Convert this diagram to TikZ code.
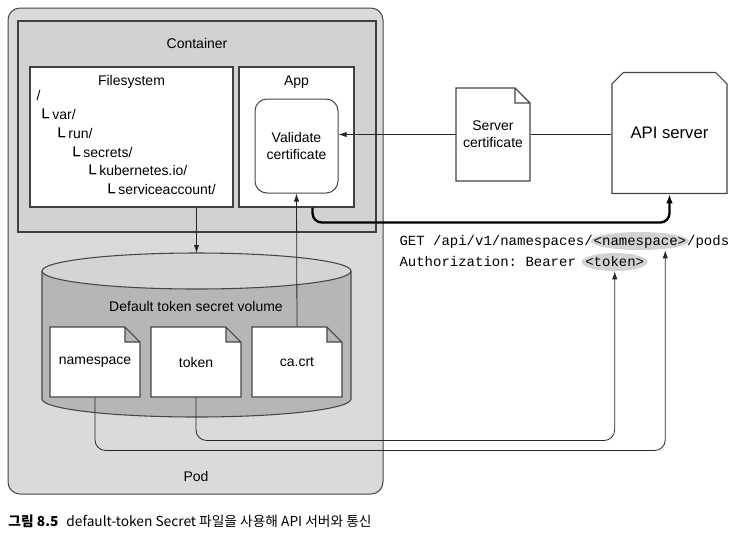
\documentclass[tikz,border=0pt]{standalone}
\usepackage{fontspec}
\setmainfont{Liberation Sans}
\setmonofont{Liberation Mono}
\newfontfamily\krfont{Noto Sans CJK KR}
\newfontfamily\boxfont{DejaVu Sans}
\usetikzlibrary{arrows.meta,shapes.geometric,shapes.misc,positioning,backgrounds}

\definecolor{podgray}{RGB}{218,218,218}
\definecolor{cntgray}{RGB}{210,210,210}
\definecolor{cylbody}{RGB}{182,182,182}
\definecolor{cyltop}{RGB}{212,212,212}
\definecolor{hlgray}{RGB}{210,210,210}
\definecolor{linegray}{RGB}{70,70,70}

\tikzset{every picture/.style={line width=0.75pt}}
\tikzset{
  pxsize/.style 2 args={minimum width=#1*0.75pt, minimum height=#2*0.75pt},
  podbox/.style={draw=linegray, fill=podgray, rounded corners=9pt, inner sep=0},
  cntbox/.style={draw=black!75, fill=cntgray, line width=1.1pt, inner sep=0},
  whitebox/.style={draw=black!75, fill=white, line width=0.8pt, inner sep=0},
  docline/.style={draw=linegray, fill=white, line width=0.8pt},
  docnode/.style={inner sep=0, align=center},
  tree/.style={anchor=west, inner sep=0, text height=8pt, text depth=2pt},
  codeline/.style={inner sep=0, font=\ttfamily\fontsize{10.5}{12.6}\selectfont, text height=8pt, text depth=2pt},
  hilite/.style={ellipse, fill=hlgray, inner sep=0},
  arr/.style={-{Latex[length=6pt,width=4pt]}, draw=black!85, line width=0.6pt},
  conn/.style={draw=black!85, line width=0.6pt},
  thickarr/.style={-{Latex[length=7pt,width=5pt]}, draw=black, line width=1.8pt}
}

% file shape with folded corner: name, x, y, w, h, text
\newcommand{\docfile}[6]{%
  \draw[docline] (#2,#3) -- ++(#4-15,0) -- ++(15,15) -- ++(0,#5-15) -- ++(-#4,0) -- cycle
    (#2+#4-15,#3) -- ++(0,15) -- ++(15,0);
  \node[docnode, pxsize={#4}{#5}] (#1) at (#2+#4/2,#3+#5/2) {#6};
}
\newcommand{\elbow}{\raisebox{-3.2pt}{\scalebox{1.6}[1.3]{\boxfont\fontsize{9}{9}\selectfont └}}\hspace{2.5pt}}

\begin{document}
\begin{tikzpicture}[x=0.75pt,y=0.75pt,yscale=-1,xscale=1,font=\fontsize{10.5}{12.6}\selectfont]
	\useasboundingbox (0,0) rectangle (738,537);

	%Shape: Rectangle [Pod]
	\node[podbox, pxsize={375}{486}] (pod) at (195.5,251) {};
	%Shape: Rectangle [Container]
	\node[cntbox, pxsize={358}{211}] (container) at (197,126.5) {};
	%Shape: Rectangle [Filesystem]
	\node[whitebox, pxsize={203}{140}] (fs) at (131.5,137) {};
	%Shape: Rectangle [App]
	\node[whitebox, pxsize={115}{140}] (app) at (296.5,137) {};
	%Shape: Rounded rectangle [Validate]
	\node[draw=linegray, fill=white, rounded corners=9pt, pxsize={83}{94}, align=center] (validate) at (296.5,146) {Validate\\certificate};

	% Text Node
	\draw (197,43) node (cntlabel) {Container};
	% Text Node
	\draw (131.5,82) node (fslabel) {Filesystem};
	% Text Node
	\draw (296.5,82) node (applabel) {App};
	% Text Node
	\draw (196,476) node (podlabel) {Pod};

	% directory tree
	\node[tree] (t0) at (36,96) {/};
	\node[tree] (t1) at (37,115) {\elbow var/};
	\node[tree] (t2) at (53,134) {\elbow run/};
	\node[tree] (t3) at (68,153) {\elbow secrets/};
	\node[tree] (t4) at (84,171) {\elbow kubernetes.io/};
	\node[tree] (t5) at (103,190) {\elbow serviceaccount/};

	%Shape: Can [token volume]
	\draw[draw=linegray, line width=0.8pt, fill=cylbody] (42,271) -- (42,399) arc (180:0:154.5 and 18) -- (351,271);
	\draw[draw=linegray, line width=0.8pt, fill=cyltop] (196.5,271) ellipse (154.5 and 18);
	\coordinate (voltop) at (196.5,253);
	% Text Node
	\draw (196,306) node (vollabel) {Default token secret volume};

	% files in the volume
	\docfile{namespace}{50}{327}{90}{70}{namespace}
	\docfile{token}{151}{327}{90}{70}{token}
	\docfile{cacrt}{252}{327}{90}{70}{ca.crt}
	\docfile{cert}{456}{88}{74}{93}{Server\\certificate}

	%Shape: Chamfered rectangle [API server]
	\node[draw=linegray, fill=white, line width=0.8pt, chamfered rectangle, chamfered rectangle corners={north west,north east}, chamfered rectangle xsep=4pt, chamfered rectangle ysep=4.5pt, pxsize={115}{121}, font=\fontsize{12.5}{15}\selectfont] (api) at (669.5,133) {API server};

	% request text
	\node[codeline, anchor=west] (get) at (399,241) {GET /api/v1/namespaces/};
	\node[codeline, right=0pt of get] (ns) {<namespace>};
	\node[codeline, right=0pt of ns] (pods) {/pods};
	\node[codeline, anchor=west] (auth) at (399,262) {Authorization: Bearer\ \mbox{}};
	\node[codeline, right=0pt of auth] (tok) {<token>};
	\begin{scope}[on background layer]
		\node[hilite, pxsize={98}{18}] (nshl) at (ns) {};
		\node[hilite, pxsize={66}{18}] (tokhl) at (tok) {};
	\end{scope}
	\coordinate (nsend) at ([xshift=19pt]nshl.south);

	%Straight Lines
	\draw[arr] (fs.south -| voltop) -- (voltop);
	\draw[arr] (cacrt.north) -- (validate.south);
	\draw[conn] (cert.east -| api.west) -- (cert.east);
	\draw[arr] (cert.west) -- (cert.west -| validate.east);
	\draw[thickarr, rounded corners=7pt] (app.south east) ++(-42,0) -- ++(0,15) -| (api.south);
	\draw[arr, rounded corners=8pt] (namespace.south) -- ++(0,53) -| (nsend);
	\draw[arr, rounded corners=8pt] (token.south) -- ++(0,43) -| (tokhl.south);

	% Caption
	\node[anchor=west, inner sep=0, font=\krfont\fontsize{10.3}{12}\selectfont] (caption) at (8,521) {{\bfseries 그림 8.5}\hspace{6pt}default-token Secret 파일을 사용해 API 서버와 통신};
\end{tikzpicture}
\end{document}
